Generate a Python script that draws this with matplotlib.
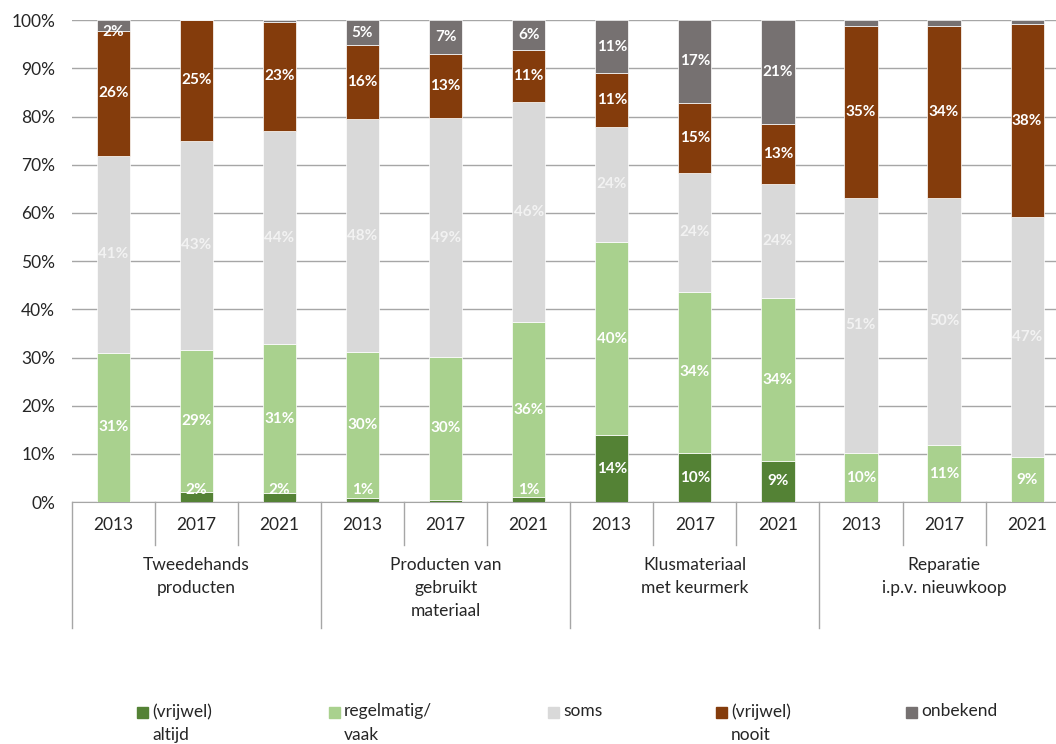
import numpy as np
import matplotlib.pyplot as plt
from matplotlib.patches import Rectangle

plt.rcParams['font.family'] = ['Lato', 'DejaVu Sans']

groups = ['Tweedehands\nproducten', 'Producten van\ngebruikt\nmateriaal',
          'Klusmateriaal\nmet keurmerk', 'Reparatie\ni.p.v. nieuwkoop']
years = ['2013', '2017', '2021']

series_names = ['(vrijwel)\naltijd', 'regelmatig/\nvaak', 'soms', '(vrijwel)\nnooit', 'onbekend']
colors = ['#548235', '#A9D18E', '#D9D9D9', '#843C0C', '#767171']
label_colors = ['white', 'white', '#F2F2F2', 'white', 'white']

# shares as drawn (100% stacked), per bar in order group x year
altijd = [0.0, 2.1, 1.9, 0.8, 0.5, 1.0, 13.9, 10.2, 8.6, 0.0, 0.0, 0.0]
regelmatig = [31.0, 29.5, 30.9, 30.4, 29.7, 36.3, 40.0, 33.5, 33.7, 10.2, 11.8, 9.3]
soms = [40.8, 43.4, 44.2, 48.2, 49.4, 45.8, 24.0, 24.6, 23.7, 53.0, 51.4, 49.8]
nooit = [26.0, 25.0, 22.6, 15.4, 13.3, 10.7, 11.1, 14.6, 12.5, 35.6, 35.6, 40.1]
onbekend = [2.2, 0.0, 0.4, 5.2, 7.1, 6.2, 11.0, 17.1, 21.5, 1.2, 1.2, 0.8]

# data labels as printed in the source (None = no label)
lab_altijd = [None, 2, 2, 1, None, 1, 14, 10, 9, None, None, None]
lab_regelmatig = [31, 29, 31, 30, 30, 36, 40, 34, 34, 10, 11, 9]
lab_soms = [41, 43, 44, 48, 49, 46, 24, 24, 24, 51, 50, 47]
lab_nooit = [26, 25, 23, 16, 13, 11, 11, 15, 13, 35, 34, 38]
lab_onbekend = [2, None, None, 5, 7, 6, 11, 17, 21, None, None, None]

series = [altijd, regelmatig, soms, nooit, onbekend]
labels = [lab_altijd, lab_regelmatig, lab_soms, lab_nooit, lab_onbekend]

fig = plt.figure(figsize=(10.56, 7.44), dpi=100)
# plot area runs a little past the right edge of the picture, as in the original
ax = fig.add_axes([0.068, 0.325, 0.944, 0.648])

x = np.arange(len(altijd))
bottom = np.zeros(len(x))
for vals, labs, col, lcol in zip(series, labels, colors, label_colors):
    vals = np.array(vals)
    ax.bar(x, vals, 0.4, bottom=bottom, color=col, edgecolor='white', linewidth=0.5, zorder=3)
    for i in range(len(x)):
        if labs[i] is None:
            continue
        yc = bottom[i] + vals[i] / 2
        yc = min(max(yc, 2.6), 97.6)
        ax.text(x[i], yc, f'{labs[i]}%', ha='center', va='center', color=lcol,
                fontsize=11, fontweight='bold', zorder=4)
    bottom += vals

ax.set_xlim(-0.5, len(x) - 0.5)
ax.set_ylim(0, 100)
ax.set_yticks(np.arange(0, 101, 10))
ax.set_yticklabels([f'{v}%' for v in range(0, 101, 10)], fontsize=12.5, color='#262626')
ax.yaxis.grid(True, color='#A6A6A6', linewidth=1, zorder=0)
ax.tick_params(axis='y', length=0, pad=12)
ax.set_xticks(x)
ax.set_xticklabels(years * len(groups), fontsize=12.5, color='#262626')
ax.tick_params(axis='x', length=0, pad=11)
for s in ['top', 'right', 'left']:
    ax.spines[s].set_visible(False)
ax.spines['bottom'].set_color('#A6A6A6')

trans = ax.get_xaxis_transform()
for k in range(len(x)):
    xs = k - 0.5
    if k % 3 == 0:
        ax.plot([xs, xs], [0, -0.26], transform=trans, color='#A6A6A6', lw=1, clip_on=False)
    else:
        ax.plot([xs, xs], [0, -0.089], transform=trans, color='#A6A6A6', lw=1, clip_on=False)

for g, name in enumerate(groups):
    ax.text(g * 3 + 1, -0.113, name, transform=trans, ha='center', va='top',
            fontsize=12.5, color='#262626', linespacing=1.55)

# legend
leg_x = [137, 329, 548, 716, 906]
for px, name, col in zip(leg_x, series_names, colors):
    fig.patches.append(Rectangle((px / 1056, 1 - 718 / 744), 11 / 1056, 11 / 744,
                                 transform=fig.transFigure, color=col))
    fig.text((px + 15) / 1056, 1 - 703 / 744, name, ha='left', va='top',
             fontsize=12.5, color='#262626', linespacing=1.6)

fig.savefig('out.png', dpi=100)
